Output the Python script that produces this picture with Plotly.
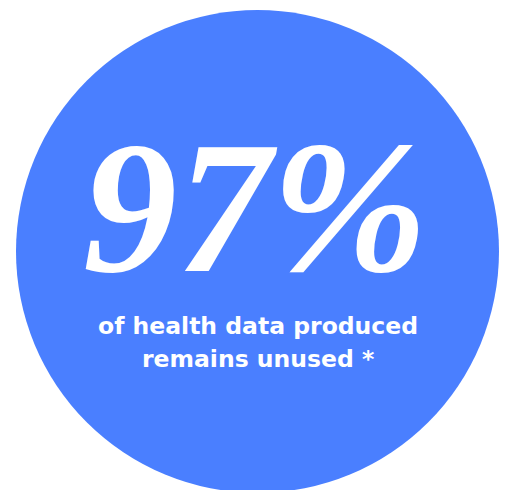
import plotly.graph_objects as go

# data
stat_value = [97]
stat_suffix = ["%"]
caption_lines = ["of health data produced", "remains unused *"]

W, H = 507, 490
OFF = 8  # page body margin; axes are in page-pixel coordinates
circle_color = "#4A7FFF"

fig = go.Figure()

cx, cy, r = 257.5, 251.5, 241.5
fig.add_shape(type="circle", xref="x", yref="y",
              x0=cx - r, x1=cx + r, y0=cy - r, y1=cy + r,
              fillcolor=circle_color, line=dict(width=0), layer="below")

big_text = f"{stat_value[0]}{stat_suffix[0]}"
fig.add_annotation(x=255, y=207, xref="x", yref="y", text=big_text,
                   showarrow=False, xanchor="center", yanchor="middle",
                   font=dict(family="Liberation Serif", size=188, color="white",
                             weight="bold", style="italic"))

line_y = [326, 359]
for txt, yy in zip(caption_lines, line_y):
    fig.add_annotation(x=257.5, y=yy, xref="x", yref="y", text=txt,
                       showarrow=False, xanchor="center", yanchor="middle",
                       font=dict(family="DejaVu Sans", size=23.5, color="white", weight="bold"))

fig.update_layout(
    width=W, height=H,
    margin=dict(l=0, r=0, t=0, b=0),
    paper_bgcolor="white", plot_bgcolor="white",
    xaxis=dict(range=[OFF, W + OFF], visible=False, fixedrange=True),
    yaxis=dict(range=[H + OFF, OFF], visible=False, fixedrange=True),
    showlegend=False,
)

fig.write_html("out.html")
